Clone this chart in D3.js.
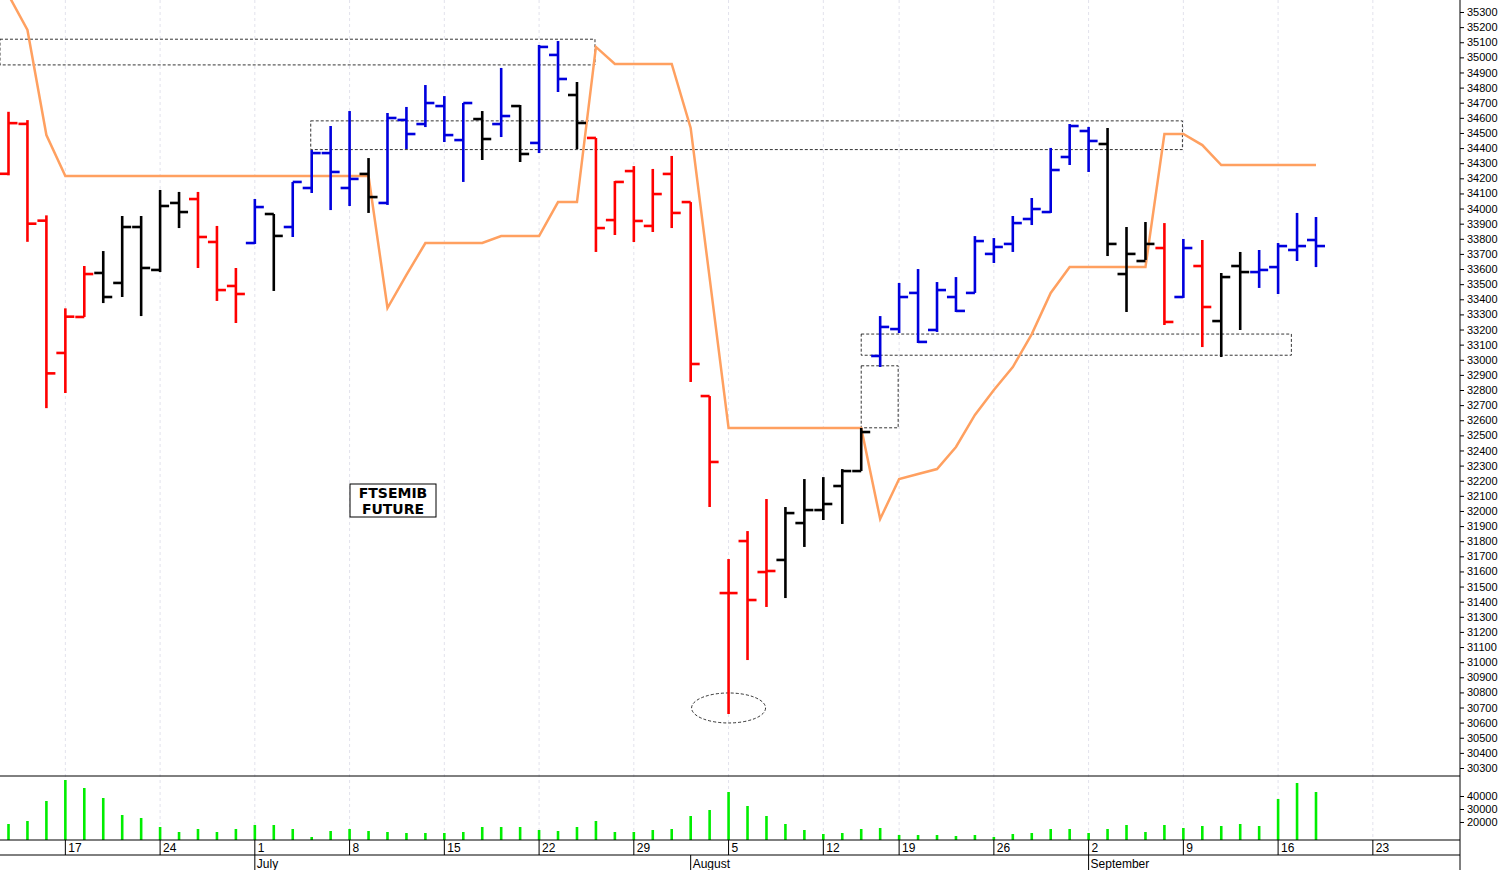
<!DOCTYPE html>
<html><head><meta charset="utf-8">
<script src="https://cdn.jsdelivr.net/npm/d3@7/dist/d3.min.js"></script>
<style>body{margin:0;background:#fff}svg{display:block}</style>
</head><body><svg id="c" width="1508" height="870"></svg>
<script>
// OHLC per trading day (index 0 = 12 June)
const opens =  [34230,34560,33920,33045,33283,33574,33508,33878,33594,34037,34063,33779,33488,33772,33964,33878,34136,34367,34136,34229,34037,34586,34559,34678,34453,34592,34559,34678,34434,35016,34751,34467,33924,34248,33885,34229,34043,32760,31457,31801,31596,31676,31920,32006,32165,32264,33025,33203,33442,33197,33415,33442,33700,33766,33931,33977,34341,34513,34427,33567,33653,33739,33415,33620,33256,33620,33580,33613,33726,33792];
const highs =  [34640,34585,33955,33340,33620,33719,33951,33951,34123,34110,34110,33885,33607,34063,33964,34176,34387,34546,34645,34334,34632,34672,34817,34744,34698,34645,34930,34685,35082,35108,34837,34467,34182,34281,34262,34348,34043,32760,31682,31867,32079,32026,32211,32224,32277,32549,33289,33508,33600,33514,33547,33818,33805,33951,34070,34401,34559,34540,34533,33878,33911,33904,33799,33792,33574,33713,33726,33772,33971,33944];
const lows =   [34220,33780,32680,32780,33283,33375,33415,33289,33580,33871,33607,33389,33243,33766,33455,33812,34103,33990,34017,33971,34024,34394,34539,34440,34176,34321,34473,34308,34367,34771,34394,33713,33825,33779,33845,33871,32853,32026,30657,31014,31365,31424,31762,31940,31914,32264,32952,33177,33111,33184,33316,33442,33640,33713,33891,33971,34288,34242,33686,33316,33660,33230,33409,33084,33018,33197,33475,33435,33653,33613];
const closes = [34565,33900,32910,33285,33567,33415,33878,33607,34017,33977,33812,33461,33435,34010,33819,34176,34367,34242,34196,34076,34599,34493,34698,34486,34698,34460,34612,34361,35069,34857,34566,33871,34176,33918,34096,33971,32972,32324,31457,31411,31603,31986,32006,32046,32264,32522,33217,33415,33118,33461,33323,33785,33746,33904,33997,34255,34546,34447,33766,33700,33766,33250,33739,33349,33547,33580,33594,33752,33752,33752];
const trend = "rrrrrkkkkkrrrbkbbbbkbbbbbkbkbbkrrrrrrrrrrkkkkkbbbbbbbbbbbbkkkrbrkkbbbb";
const stopLine = [35412,35181,34486,34215,34215,34215,34215,34215,34215,34215,34215,34215,34215,34215,34215,34215,34215,34215,34215,34215,33342,33561,33772,33772,33772,33772,33818,33818,33818,34043,34043,35069,34956,34956,34956,34956,34533,33541,32549,32549,32549,32549,32549,32549,32549,32549,31947,32211,32244,32277,32423,32635,32800,32952,33170,33442,33613,33613,33613,33613,33613,34493,34493,34420,34288,34288,34288,34288,34288,34288];
const volumes = [18460,20770,36150,52310,46150,38460,25380,23080,16150,12310,14620,12310,14620,17690,17690,14620,8460,13080,14620,13080,12310,11540,11540,11540,12310,16150,16150,16150,13850,13080,16150,20770,12310,12310,13850,14620,24620,29230,43080,32310,24620,18460,13850,10770,11540,14620,15380,10000,10000,10000,9230,10000,8460,10770,11540,14620,14620,11540,14620,17690,12310,17690,15380,16920,16920,18460,16920,37690,50000,43080];
const weekIdx = [3,8,13,18,23,28,33,38,43,47,52,57,62,67,72];
const weekLabels = ["17","24","1","8","15","22","29","5","12","19","26","2","9","16","23"];
const monthIdx = [13,36,57];
const monthLabels = ["July","August","September"];
const priceTicks = d3.range(30300,35301,100);
const volTicks = [20000,30000,40000];
// annotation zones [i0,i1,pLow,pHigh]
const zones = [[-0.45,30.95,34950,35120],[15.95,61.95,34390,34580],[45,67.7,33030,33170],[45,46.95,32550,32960]];
const lowEllipse = [38,30697];

const svg = d3.select("#c");
const x = d3.scaleLinear().domain([0,69]).range([8.5,1316]);
const y = d3.scaleLinear().domain([30300,35300]).range([768,12]);
const yv = d3.scaleLinear().domain([6150,54620]).range([840,777]);
const col = {r:"#ff0000",b:"#0000dd",k:"#000000"};

svg.append("g").selectAll("line").data(weekIdx).join("line")
 .attr("x1",d=>x(d)).attr("x2",d=>x(d)).attr("y1",0).attr("y2",840)
 .attr("stroke","#e2e2ec").attr("stroke-dasharray","3,3");

svg.append("g").selectAll("rect").data(zones).join("rect")
 .attr("x",d=>x(d[0])).attr("width",d=>x(d[1])-x(d[0]))
 .attr("y",d=>y(d[3])).attr("height",d=>y(d[2])-y(d[3]))
 .attr("fill","none").attr("stroke","#000").attr("stroke-dasharray","3,2").attr("stroke-width",0.8);
svg.append("ellipse").attr("cx",x(lowEllipse[0])).attr("cy",y(lowEllipse[1]))
 .attr("rx",37).attr("ry",15).attr("fill","none").attr("stroke","#000").attr("stroke-dasharray","3,2").attr("stroke-width",0.8);

svg.append("path").datum(stopLine).attr("fill","none").attr("stroke","#ffa060").attr("stroke-width",2.5)
 .attr("d",d3.line().x((d,i)=>x(i)).y(d=>y(d)));

const bars = svg.append("g").selectAll("g").data(opens.map((o,i)=>({i,o,h:highs[i],l:lows[i],c:closes[i],t:trend[i]}))).join("g")
 .attr("stroke",d=>col[d.t]).attr("stroke-width",2.6);
bars.append("line").attr("x1",d=>x(d.i)).attr("x2",d=>x(d.i)).attr("y1",d=>y(d.h)).attr("y2",d=>y(d.l));
bars.append("line").attr("x1",d=>x(d.i)-9).attr("x2",d=>x(d.i)).attr("y1",d=>y(d.o)).attr("y2",d=>y(d.o));
bars.append("line").attr("x1",d=>x(d.i)).attr("x2",d=>x(d.i)+9).attr("y1",d=>y(d.c)).attr("y2",d=>y(d.c));

const lb = svg.append("g").attr("font-family","'DejaVu Sans',sans-serif").attr("font-weight","bold").attr("font-size",14).attr("text-anchor","middle");
lb.append("rect").attr("x",350).attr("y",484).attr("width",86).attr("height",33).attr("fill","#fff").attr("stroke","#000");
lb.append("text").attr("x",393).attr("y",498).text("FTSEMIB");
lb.append("text").attr("x",393).attr("y",514).text("FUTURE");

svg.append("g").selectAll("line").data(volumes).join("line")
 .attr("x1",(d,i)=>x(i)).attr("x2",(d,i)=>x(i)).attr("y1",840).attr("y2",d=>yv(d))
 .attr("stroke","#00ee00").attr("stroke-width",2.6);

const fl = svg.append("g").attr("stroke","#000");
[776,840,855].forEach(v=>fl.append("line").attr("x1",0).attr("x2",1460).attr("y1",v).attr("y2",v));
fl.append("line").attr("x1",1460).attr("x2",1460).attr("y1",0).attr("y2",870);

svg.append("g").attr("transform","translate(1460,0)").call(d3.axisRight(y).tickValues(priceTicks).tickSize(4).tickFormat(d3.format("d")))
 .call(g=>{g.select(".domain").remove();g.selectAll("text").attr("font-family","Arial, 'Liberation Sans'").attr("font-size",11).attr("fill","#000");});
svg.append("g").attr("transform","translate(1460,0)").call(d3.axisRight(yv).tickValues(volTicks).tickSize(4).tickFormat(d3.format("d")))
 .call(g=>{g.select(".domain").remove();g.selectAll("text").attr("font-family","Arial, 'Liberation Sans'").attr("font-size",11).attr("fill","#000");});

const da = svg.append("g").attr("font-family","Arial, 'Liberation Sans'").attr("font-size",12);
weekIdx.forEach((w,k)=>{
  da.append("line").attr("x1",x(w)).attr("x2",x(w)).attr("y1",840).attr("y2",855).attr("stroke","#000");
  da.append("text").attr("x",x(w)+3).attr("y",852).text(weekLabels[k]);
});
monthIdx.forEach((m,k)=>{
  da.append("line").attr("x1",x(m)).attr("x2",x(m)).attr("y1",855).attr("y2",870).attr("stroke","#000");
  da.append("text").attr("x",x(m)+2).attr("y",868).text(monthLabels[k]);
});
</script></body></html>
